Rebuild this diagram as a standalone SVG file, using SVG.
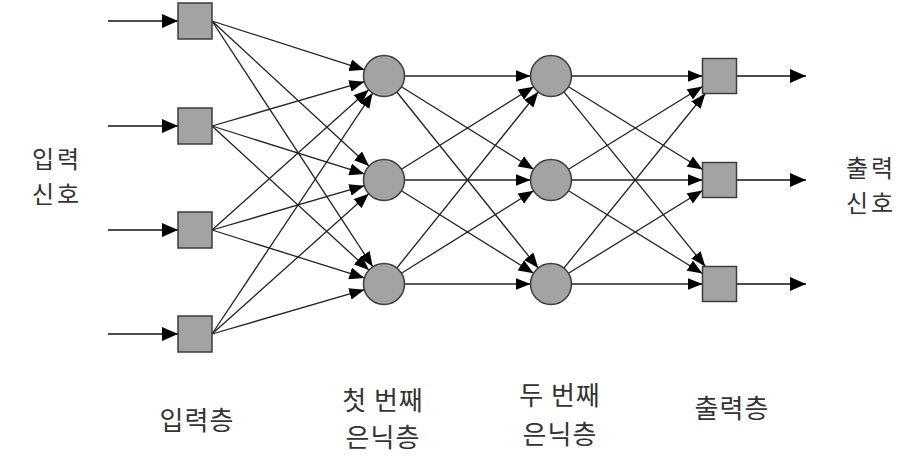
<svg xmlns="http://www.w3.org/2000/svg" width="902" height="471" viewBox="0 0 902 471">
<style>
.sq{fill:#a3a3a3;stroke:#3c3c3c;stroke-width:1.5}
.ci{fill:#a3a3a3;stroke:#3c3c3c;stroke-width:1.5}
.ln{stroke:#222;stroke-width:1.3;fill:none;marker-end:url(#ah)}
.io{stroke:#111;stroke-width:1.6;fill:none;marker-end:url(#ahb)}
text{font-family:"Noto Sans CJK KR","Noto Sans",sans-serif;font-size:26px;fill:#333;text-anchor:middle;letter-spacing:1px}
text.side{font-size:24px;letter-spacing:3px}
</style>
<defs>
<marker id="ah" markerUnits="userSpaceOnUse" markerWidth="15" markerHeight="12" refX="15" refY="6" orient="auto"><path d="M0,0 L15,6 L0,12 z" fill="#000"/></marker>
<marker id="ahb" markerUnits="userSpaceOnUse" markerWidth="16" markerHeight="14" refX="16" refY="7" orient="auto"><path d="M0,0 L16,7 L0,14 z" fill="#000"/></marker>
</defs>
<g id="connectors">
<line class="io" x1="108" y1="21" x2="178" y2="21"/>
<line class="io" x1="108" y1="126" x2="178" y2="126"/>
<line class="io" x1="108" y1="230" x2="178" y2="230"/>
<line class="io" x1="108" y1="334" x2="178" y2="334"/>
<line class="io" x1="737" y1="76" x2="806" y2="76"/>
<line class="io" x1="737" y1="180" x2="806" y2="180"/>
<line class="io" x1="737" y1="284" x2="806" y2="284"/>
<line class="ln" x1="212" y1="21" x2="364.5" y2="69.8"/>
<line class="ln" x1="212" y1="126" x2="364.3" y2="81.7"/>
<line class="ln" x1="212" y1="230" x2="368.7" y2="89.7"/>
<line class="ln" x1="212" y1="334" x2="372.6" y2="93.1"/>
<line class="ln" x1="212" y1="21" x2="369" y2="166.1"/>
<line class="ln" x1="212" y1="126" x2="364.4" y2="173.9"/>
<line class="ln" x1="212" y1="230" x2="364.3" y2="185.7"/>
<line class="ln" x1="212" y1="334" x2="368.7" y2="193.7"/>
<line class="ln" x1="212" y1="21" x2="372.8" y2="266.8"/>
<line class="ln" x1="212" y1="126" x2="368.9" y2="270.1"/>
<line class="ln" x1="212" y1="230" x2="364.4" y2="277.9"/>
<line class="ln" x1="212" y1="334" x2="364.3" y2="289.7"/>
<line class="ln" x1="404.5" y1="76" x2="530.5" y2="76"/>
<line class="ln" x1="404.5" y1="180" x2="530.5" y2="180"/>
<line class="ln" x1="404.5" y1="284" x2="530.5" y2="284"/>
<line class="ln" x1="401.4" y1="86.8" x2="533.6" y2="169.2"/>
<line class="ln" x1="401.4" y1="190.8" x2="533.6" y2="273.2"/>
<line class="ln" x1="401.4" y1="169.2" x2="533.6" y2="86.8"/>
<line class="ln" x1="401.4" y1="273.2" x2="533.6" y2="190.8"/>
<line class="ln" x1="396.8" y1="92" x2="538.2" y2="268"/>
<line class="ln" x1="396.8" y1="268" x2="538.2" y2="92"/>
<line class="ln" x1="571.5" y1="76" x2="702.5" y2="76"/>
<line class="ln" x1="571.5" y1="180" x2="702.5" y2="180"/>
<line class="ln" x1="571.5" y1="284" x2="702.5" y2="284"/>
<line class="ln" x1="568.5" y1="86.8" x2="702.5" y2="169.5"/>
<line class="ln" x1="568.5" y1="190.8" x2="702.5" y2="273.5"/>
<line class="ln" x1="568.5" y1="169.2" x2="702.5" y2="86.5"/>
<line class="ln" x1="568.5" y1="273.2" x2="702.5" y2="190.5"/>
<line class="ln" x1="563.9" y1="91.9" x2="705.3" y2="266.5"/>
<line class="ln" x1="563.9" y1="268.1" x2="705.3" y2="93.5"/>
</g>
<g id="in1"><rect class="sq" x="178" y="3" width="34" height="36"/></g>
<g id="in2"><rect class="sq" x="178" y="108" width="34" height="36"/></g>
<g id="in3"><rect class="sq" x="178" y="212" width="34" height="36"/></g>
<g id="in4"><rect class="sq" x="178" y="316" width="34" height="36"/></g>
<g id="h1a"><circle class="ci" cx="384" cy="76" r="20.5"/></g>
<g id="h1b"><circle class="ci" cx="384" cy="180" r="20.5"/></g>
<g id="h1c"><circle class="ci" cx="384" cy="284" r="20.5"/></g>
<g id="h2a"><circle class="ci" cx="551" cy="76" r="20.5"/></g>
<g id="h2b"><circle class="ci" cx="551" cy="180" r="20.5"/></g>
<g id="h2c"><circle class="ci" cx="551" cy="284" r="20.5"/></g>
<g id="out1"><rect class="sq" x="702.5" y="58.5" width="34" height="35"/></g>
<g id="out2"><rect class="sq" x="702.5" y="162.5" width="34" height="35"/></g>
<g id="out3"><rect class="sq" x="702.5" y="266.5" width="34" height="35"/></g>
<g id="labels">
<text class="side" x="57" y="168">입력</text>
<text class="side" x="57" y="203">신호</text>
<text class="side" x="871" y="177">출력</text>
<text class="side" x="871" y="212">신호</text>
<text x="197" y="430">입력층</text>
<text x="383" y="410">첫 번째</text>
<text x="383" y="447">은닉층</text>
<text x="560" y="405">두 번째</text>
<text x="560" y="444">은닉층</text>
<text x="732" y="418">출력층</text>
</g>
</svg>
